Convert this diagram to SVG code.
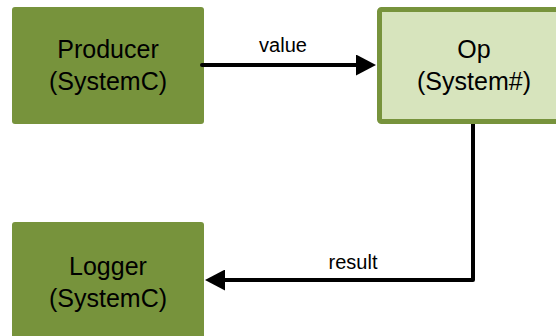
<svg xmlns="http://www.w3.org/2000/svg" width="556" height="336" viewBox="0 0 556 336">
<style>
.dark{fill:#77933C;}
.light{fill:#D7E4BD;stroke:#77933C;stroke-width:5;}
.nt{font-family:"Liberation Sans",Arial,sans-serif;font-size:25px;fill:#000;text-anchor:middle;}
.lt{font-family:"Liberation Sans",Arial,sans-serif;font-size:20px;fill:#000;text-anchor:middle;}
.wire{fill:none;stroke:#000;stroke-width:4;stroke-linejoin:round;stroke-linecap:butt;}
</style>
<defs>
<marker id="ah" markerUnits="userSpaceOnUse" markerWidth="20" markerHeight="21" refX="16" refY="10.5" orient="auto">
<path d="M0,0 L20,10.5 L0,21 Z" fill="#000"/>
</marker>
</defs>
<rect width="556" height="336" fill="#fff"/>
<g id="producer">
<rect class="dark" x="12" y="7" width="192" height="117" rx="3"/>
<text class="nt" x="108" y="58">Producer</text>
<text class="nt" x="108" y="90">(SystemC)</text>
</g>
<g id="op">
<rect class="light" x="379.5" y="9.5" width="191" height="112" rx="2"/>
<text class="nt" x="474" y="58">Op</text>
<text class="nt" x="474" y="90">(System#)</text>
</g>
<g id="logger">
<rect class="dark" x="12" y="222" width="192" height="120" rx="3"/>
<text class="nt" x="108" y="275">Logger</text>
<text class="nt" x="108" y="307">(SystemC)</text>
</g>
<g id="connectors">
<circle cx="202" cy="65" r="2" fill="#000"/>
<path class="wire" d="M202,65 H372" marker-end="url(#ah)"/>
<text class="lt" x="283" y="52">value</text>
<path class="wire" d="M473,124 V280 H209" marker-end="url(#ah)"/>
<text class="lt" x="353" y="269">result</text>
</g>
</svg>
